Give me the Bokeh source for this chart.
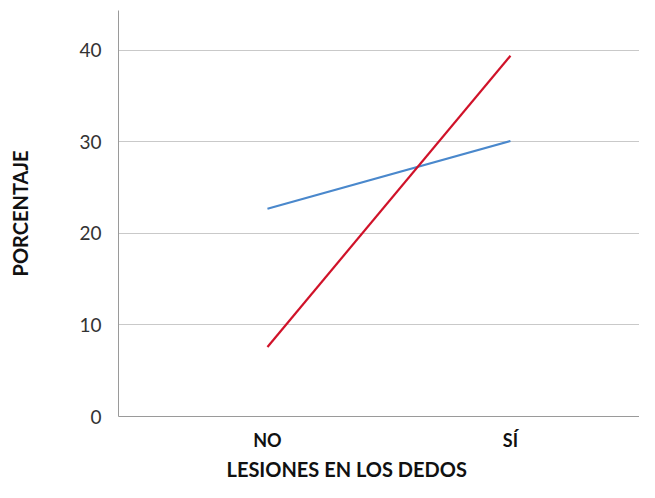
from bokeh.plotting import figure
from bokeh.models import FixedTicker, Range1d, Title
from bokeh.embed import file_html
from bokeh.resources import INLINE

categories = ["NO", "SÍ"]
serie_azul = [22.7, 30.1]
serie_roja = [7.6, 39.4]
y_ticks = [0, 10, 20, 30, 40]

FONT = "Lato"
x_pos = list(range(len(categories)))

p = figure(width=639, height=482, output_backend="svg", toolbar_location=None,
           x_range=Range1d(-0.613, 1.531), y_range=Range1d(0, 44.35),
           min_border_left=118, min_border_right=0, min_border_top=10,
           min_border_bottom=66)
p.outline_line_color = None
p.background_fill_color = "white"
p.border_fill_color = "white"

p.line(x_pos, serie_azul, line_color="#4a88cc", line_width=2.2)
p.line(x_pos, serie_roja, line_color="#d01229", line_width=2.2)

p.xgrid.grid_line_color = None
p.ygrid.grid_line_color = "#c9c9c9"
p.ygrid.grid_line_width = 1

p.yaxis.ticker = FixedTicker(ticks=y_ticks)
p.yaxis.axis_line_color = "#9a9a9a"
p.yaxis.major_tick_line_color = None
p.yaxis.minor_tick_line_color = None
p.yaxis.major_label_text_font = FONT
p.yaxis.major_label_text_font_size = "19px"
p.yaxis.major_label_text_color = "#333333"
p.yaxis.major_label_standoff = 11
p.yaxis.axis_label = "PORCENTAJE"
p.yaxis.axis_label_text_font = FONT
p.yaxis.axis_label_text_font_style = "bold"
p.yaxis.axis_label_text_font_size = "20px"
p.yaxis.axis_label_text_color = "#111111"
p.yaxis.axis_label_standoff = 44

p.xaxis.ticker = FixedTicker(ticks=x_pos)
p.xaxis.major_label_overrides = {i: c for i, c in zip(x_pos, categories)}
p.xaxis.axis_line_color = "#9a9a9a"
p.xaxis.major_tick_line_color = None
p.xaxis.minor_tick_line_color = None
p.xaxis.major_label_text_font = FONT
p.xaxis.major_label_text_font_style = "bold"
p.xaxis.major_label_text_font_size = "18px"
p.xaxis.major_label_text_color = "#111111"
p.xaxis.major_label_standoff = 6

xt = Title(text="LESIONES EN LOS DEDOS", align="left", offset=108,
           text_font=FONT, text_font_style="bold", text_font_size="20px",
           text_color="#111111", standoff=3)
p.add_layout(xt, "below")

open("out.html", "w").write(file_html(p, INLINE))
